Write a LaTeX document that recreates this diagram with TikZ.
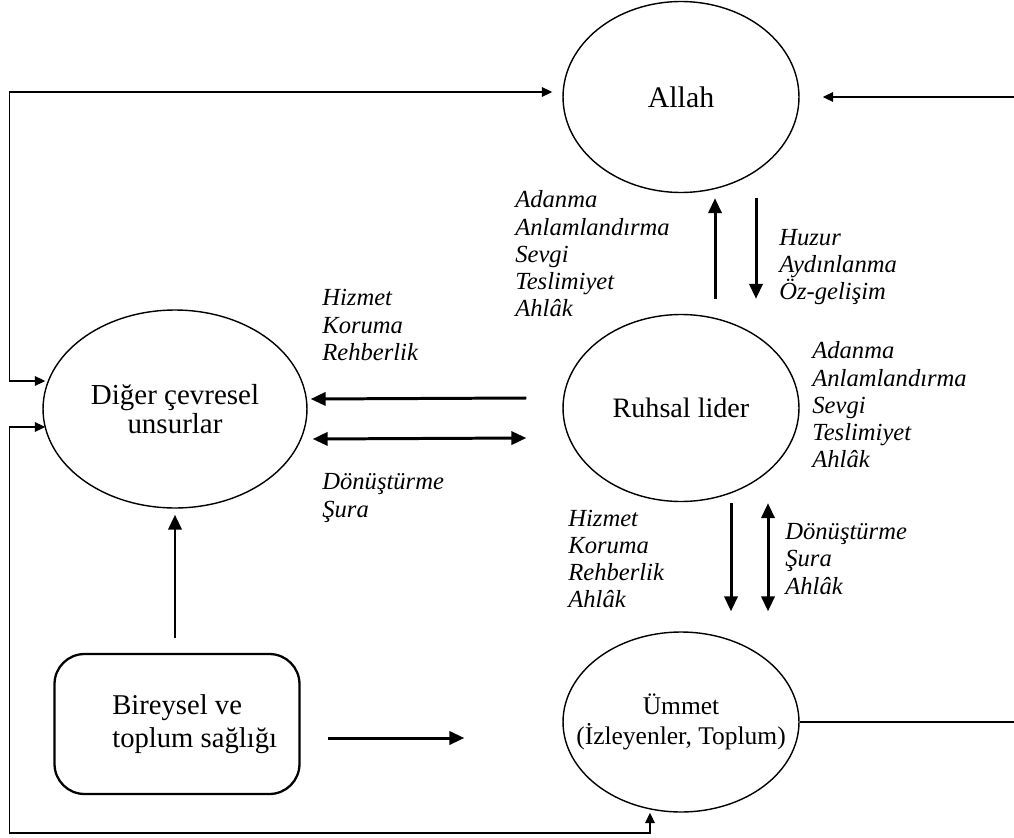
\documentclass[tikz,border=0pt]{standalone}
\usepackage{fontspec}
\setmainfont{Liberation Serif}
\usetikzlibrary{shapes.geometric,arrows.meta,calc}
\begin{document}
\begin{tikzpicture}[x=0.02cm, y=-0.02cm,
  every node/.style={align=center, font=\fontsize{16}{17}\selectfont},
  oval/.style={draw, ellipse, line width=0.8pt, inner sep=0pt, minimum width=4.72cm, minimum height=3.74cm},
  lbl/.style={anchor=west, align=left, inner sep=0pt, font=\fontsize{14}{15.5}\selectfont\itshape},
  thk/.style={line width=1.7pt, >={Triangle[length=8.5pt,width=7.5pt]}, ->},
  thn/.style={line width=0.8pt, >={Triangle[length=6pt,width=5.5pt]}, ->}]
\useasboundingbox (0,0) rectangle (1014,838);

\node[oval, minimum height=3.82cm, font=\fontsize{17}{18}\selectfont] (allah) at (681,97) {Allah};
\node[oval] (ruhsal) at (681,408) {Ruhsal lider};
\node[oval, minimum height=3.6cm, inner xsep=-0.6cm, font=\fontsize{14.5}{17}\selectfont] (ummet) at (681,722) {Ümmet\\(İzleyenler, Toplum)};
\node[oval, minimum width=5.28cm, minimum height=3.96cm, font=\fontsize{16.5}{16.5}\selectfont] (diger) at (175,409) {Diğer çevresel\\unsurlar};
\node[draw, rounded corners=0.6cm, line width=1.3pt, minimum width=4.9cm, minimum height=2.8cm] (saglik) at (177,724) {};
\node[anchor=west, align=left, inner sep=0pt, font=\fontsize{16.3}{19}\selectfont] (saglikyazi) at (112,724) {Bireysel ve\\toplum sağlığı};

\coordinate (sagust) at (1014,97);
\coordinate (sagalt) at (1014,722);

% etiketler
\node[lbl] (adanma1) at (515,254) {Adanma\\Anlamlandırma\\Sevgi\\Teslimiyet\\Ahlâk};
\node[lbl] (huzur) at (779,267) {Huzur\\Aydınlanma\\Öz-gelişim};
\node[lbl] (hizmet1) at (322,325) {Hizmet\\Koruma\\Rehberlik};
\node[lbl] (adanma2) at (812,405) {Adanma\\Anlamlandırma\\Sevgi\\Teslimiyet\\Ahlâk};
\node[lbl] (donusum1) at (322,498) {Dönüştürme\\Şura};
\node[lbl] (hizmet2) at (568,559) {Hizmet\\Koruma\\Rehberlik\\Ahlâk};
\node[lbl] (donusum2) at (785,559) {Dönüştürme\\Şura\\Ahlâk};

% kalin oklar
\draw[thk] ($(ruhsal.north)+(34,-15)$) -- ($(allah.south)+(34,5)$);
\draw[thk] ($(allah.south)+(75,5)$) -- ($(ruhsal.north)+(75,-15)$);
\draw[thk] ($(ruhsal.south)+(50,1)$) -- ($(ummet.north)+(50,-20)$);
\draw[thk, <->] ($(ruhsal.south)+(87,1)$) -- ($(ummet.north)+(87,-20)$);
\draw[thk] ($(ruhsal.west)+(-36,-10)$) -- ($(diger.east)+(3,-10)$);
\draw[thk, <->] ($(diger.east)+(5,30)$) -- ($(ruhsal.west)+(-36,30)$);
\draw[thk] ($(saglik.north)+(-2,-15)$) -- ($(diger.south)+(0,6)$);
\draw[thk] ($(saglik.east)+(27,14)$) -- ($(ummet.west)+(-98,16)$);

% ince hatlar
\draw[thn, <->] ($(diger.west)+(3,-28)$) -- ++(-36,0) |- ($(allah.west)+(-10,-5)$);
\draw[thn, <->] ($(diger.west)+(3,18)$) -- ++(-36,0) -- ++(0,406) -| ($(ummet.south)+(-31,0)$);
\draw[thn] (sagust) -- ($(allah.east)+(23,0)$);
\draw[line width=0.8pt] (ummet.east) -- (sagalt);
\end{tikzpicture}
\end{document}
